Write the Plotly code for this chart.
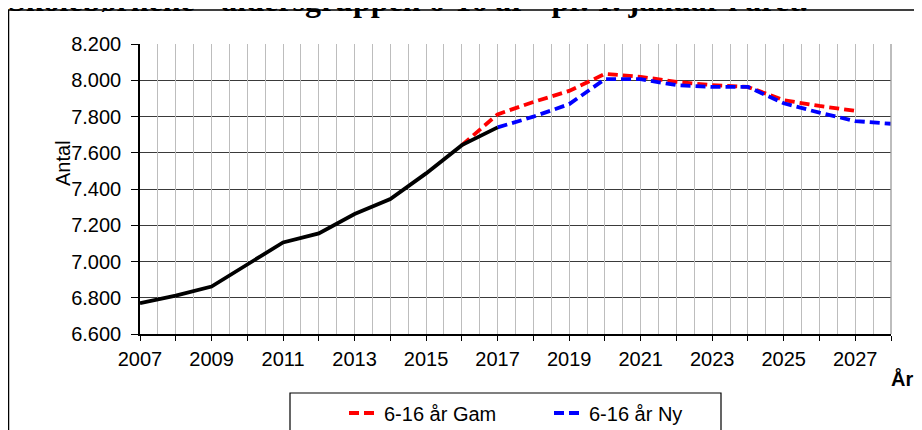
import plotly.graph_objects as go

# ---- data ----
hist_years = list(range(2007, 2018))
hist_vals = [6770, 6812, 6862, 6985, 7105, 7155, 7262, 7345, 7486, 7642, 7740]

gam_years = list(range(2016, 2028))
gam_vals = [7642, 7812, 7880, 7941, 8035, 8019, 7991, 7973, 7963, 7890, 7858, 7831]

ny_years = list(range(2017, 2029))
ny_vals = [7740, 7799, 7868, 8006, 8006, 7973, 7963, 7963, 7873, 7821, 7775, 7760]

tick_years = list(range(2007, 2029))
tick_labels = [str(y) if (y - 2007) % 2 == 0 and y <= 2027 else "" for y in tick_years]
y_ticks = list(range(6600, 8201, 200))

title_text = "Skolebørnene - aldersgruppen 6-16 år - pr. 1. januar i året."

FONT = "Liberation Sans, Arial, sans-serif"
OFF = 8                      # page body margin
W, H = 922 - OFF, 430 - OFF  # figure size
L, T = 140 - OFF, 44 - OFF
R = W - (891 - OFF)
B = H - (334 - OFF)
PW, PH = W - L - R, H - T - B


def px_x(p):  # page px -> paper
    return (p - OFF - L) / PW


def px_y(p):  # page px -> paper
    return (H - B - (p - OFF)) / PH


fig = go.Figure()
fig.add_trace(go.Scatter(x=gam_years, y=gam_vals, mode="lines", name="6-16 år Gam",
                         line=dict(color="#ff0000", width=3.8, dash="10px,5px")))
fig.add_trace(go.Scatter(x=ny_years, y=ny_vals, mode="lines", name="6-16 år Ny",
                         line=dict(color="#0000ff", width=3.8, dash="10px,5px")))
fig.add_trace(go.Scatter(x=hist_years, y=hist_vals, mode="lines", name="hist",
                         showlegend=False, line=dict(color="#000000", width=3.8)))
# invisible trace on overlay axis for half-year gridlines
fig.add_trace(go.Scatter(x=[2007, 2028], y=[6600, 6600], xaxis="x2", mode="lines",
                         line=dict(width=0), showlegend=False, hoverinfo="skip"))

fig.update_layout(
    width=W, height=H,
    margin=dict(l=L, r=R, t=T, b=B),
    paper_bgcolor="white", plot_bgcolor="white",
    separators=",.",
    font=dict(family=FONT, size=20, color="black"),
    xaxis=dict(range=[2007, 2028], tickmode="array", tickvals=tick_years, ticktext=tick_labels,
               ticks="outside", ticklen=5, tickcolor="black", tickwidth=1.3,
               showline=True, linecolor="black", linewidth=1.5, showgrid=False, zeroline=False,
               ticklabelstandoff=1, tickfont=dict(size=20)),
    xaxis2=dict(range=[2007, 2028], overlaying="x", anchor="y", side="bottom",
                tickmode="linear", tick0=2007, dtick=0.5, showticklabels=False, ticks="",
                showgrid=True, gridcolor="#bdbdbd", gridwidth=1.3, showline=False, zeroline=False),
    yaxis=dict(range=[6600, 8200], tickmode="array", tickvals=y_ticks, tickformat=",.0f",
               ticks="outside", ticklen=7, tickcolor="black", tickwidth=1.3,
               showline=True, linecolor="black", linewidth=1.5,
               showgrid=True, gridcolor="#3a3a3a", gridwidth=1.3, zeroline=False,
               ticklabelstandoff=6, tickfont=dict(size=20)),
    legend=dict(orientation="h", xref="container", yref="container",
                x=(344 - OFF) / W, xanchor="left", y=1 - (413 - OFF) / H, yanchor="middle",
                bgcolor="rgba(0,0,0,0)", borderwidth=0, font=dict(size=20),
                entrywidth=160, entrywidthmode="pixels", traceorder="normal"),
    showlegend=True,
)

# right border of plot area (gray)
fig.add_shape(type="line", xref="paper", yref="paper", x0=1, x1=1, y0=0, y1=1,
              line=dict(color="#9a9a9a", width=1.3))
# outer chart frame
fig.add_shape(type="rect", xref="paper", yref="paper",
              x0=px_x(8.5), x1=px_x(930), y0=px_y(440), y1=px_y(10),
              line=dict(color="black", width=1.5), fillcolor="rgba(0,0,0,0)")
# legend box
fig.add_shape(type="rect", xref="paper", yref="paper",
              x0=px_x(290), x1=px_x(721), y0=px_y(440), y1=px_y(393),
              line=dict(color="black", width=1.2), fillcolor="rgba(0,0,0,0)")

fig.add_annotation(text="Antal", xref="paper", yref="paper", x=px_x(50), y=px_y(163),
                   textangle=-90, showarrow=False, font=dict(size=20, family=FONT))
fig.add_annotation(text="<b>År</b>", xref="paper", yref="paper", x=px_x(889), xanchor="left",
                   y=px_y(365), yanchor="top",
                   showarrow=False, font=dict(size=20, family=FONT))
fig.add_annotation(text="<b>" + title_text + "</b>", xref="paper", yref="paper",
                   x=px_x(6), xanchor="left", y=px_y(20), yanchor="bottom",
                   showarrow=False, font=dict(size=32, family="Liberation Serif, Times New Roman, serif"))

fig.write_html("out.html")
